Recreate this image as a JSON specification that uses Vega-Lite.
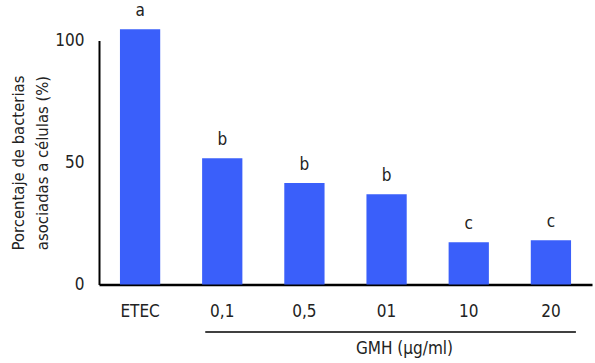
{
  "$schema": "https://vega.github.io/schema/vega-lite/v6.json",
  "width": 493,
  "height": 244,
  "autosize": {"type": "none"},
  "padding": {"left": 99, "top": 40.5, "right": 3, "bottom": 78.5},
  "config": {"view": {"stroke": null}, "font": "'DejaVu Sans Condensed', 'Open Sans', sans-serif"},
  "data": {"values": [
    {"grupo": "ETEC", "pct": 104.6, "letra": "a"},
    {"grupo": "0,1", "pct": 51.7, "letra": "b"},
    {"grupo": "0,5", "pct": 41.6, "letra": "b"},
    {"grupo": "01", "pct": 37.0, "letra": "b"},
    {"grupo": "10", "pct": 17.3, "letra": "c"},
    {"grupo": "20", "pct": 18.1, "letra": "c"}
  ]},
  "layer": [
    {
      "mark": {"type": "bar", "color": "#3a5ffa"},
      "encoding": {
        "x": {
          "field": "grupo", "type": "nominal", "sort": null,
          "scale": {"paddingInner": 0.51, "paddingOuter": 0.255},
          "axis": {
            "title": "GMH (µg/ml)", "titleX": 305, "titleY": 64, "titleBaseline": "middle", "titleAlign": "center",
            "titleFontSize": 17, "titleFontWeight": "normal", "titleColor": "#222",
            "labelAngle": 0, "labelFontSize": 17, "labelColor": "#222", "labelPadding": 19,
            "ticks": false, "domainColor": "black", "domainWidth": 2.5, "grid": false
          }
        },
        "y": {
          "field": "pct", "type": "quantitative",
          "scale": {"domain": [0, 100], "nice": false},
          "axis": {
            "title": ["Porcentaje de bacterias", "asociadas a células (%)"],
            "titleFontSize": 16.5, "titleFontWeight": "normal", "titleColor": "#222", "titlePadding": 4, "titleLineHeight": 24,
            "values": [0, 50, 100], "labelFontSize": 17, "labelColor": "#222", "labelPadding": 15,
            "ticks": false, "domainColor": "black", "domainWidth": 2, "grid": false
          }
        }
      }
    },
    {
      "mark": {"type": "text", "dy": -13, "baseline": "alphabetic", "fontSize": 17, "color": "#222"},
      "encoding": {
        "x": {"field": "grupo", "type": "nominal", "sort": null},
        "y": {"field": "pct", "type": "quantitative"},
        "text": {"field": "letra"}
      }
    },
    {
      "data": {"values": [{}]},
      "mark": {"type": "rule", "color": "black", "strokeWidth": 1.5, "xOffset": -17, "x2Offset": 25},
      "encoding": {
        "x": {"datum": "0,1", "type": "nominal"},
        "x2": {"datum": "20"},
        "y": {"datum": -19.5, "type": "quantitative"}
      }
    }
  ]
}
